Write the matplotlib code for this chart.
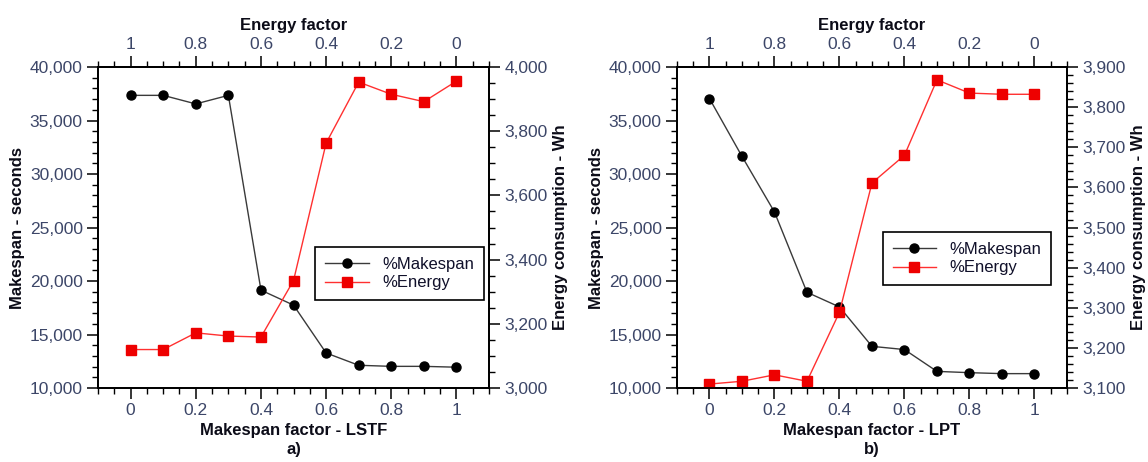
import matplotlib
matplotlib.use("Agg")
import matplotlib.pyplot as plt
from matplotlib.ticker import MultipleLocator, FuncFormatter

plt.rcParams['font.family'] = ['Liberation Sans', 'DejaVu Sans']

factor = [0, 0.1, 0.2, 0.3, 0.4, 0.5, 0.6, 0.7, 0.8, 0.9, 1.0]

# a) LSTF
lstf_makespan = [37350, 37350, 36550, 37350, 19150, 17750, 13280, 12130, 12030, 12030, 11950]
lstf_energy = [3120, 3120, 3172, 3162, 3159, 3335, 3763, 3953, 3915, 3892, 3956]

# b) LPT
lpt_makespan = [37050, 31650, 26450, 18950, 17580, 13900, 13600, 11560, 11440, 11350, 11350]
lpt_energy = [3110, 3117, 3133, 3117, 3289, 3611, 3680, 3868, 3835, 3832, 3832]

panels = [
    ("Makespan factor - LSTF", "a)", lstf_makespan, lstf_energy, (3000, 4000), 200, 50,
     [0.0854, 0.16, 0.3406, 0.695], (0.987, 0.439)),
    ("Makespan factor - LPT", "b)", lpt_makespan, lpt_energy, (3100, 3900), 100, 20,
     [0.5897, 0.16, 0.3397, 0.695], (0.96, 0.486)),
]

tick_col = '#3c4668'
lab_col = '#0c0c18'

fig = plt.figure(figsize=(11.48, 4.62), dpi=100)

for xlabel, tag, mk, en, elim, emaj, emin, rect, legpos in panels:
    ax = fig.add_axes(rect)
    ax2 = ax.twinx()

    l1, = ax.plot(factor, mk, color='#3a3a3a', lw=1.0, marker='o', ms=6.5,
                  mfc='black', mec='black', label='%Makespan')
    l2, = ax2.plot(factor, en, color='#ff3030', lw=1.0, marker='s', ms=6.5,
                   mfc='#ee0000', mec='#ee0000', label='%Energy')

    ax.set_xlim(-0.1, 1.1)
    ax.set_ylim(10000, 40000)
    ax2.set_ylim(*elim)

    ax.xaxis.set_major_locator(MultipleLocator(0.2))
    ax.xaxis.set_minor_locator(MultipleLocator(0.05))
    ax.xaxis.set_major_formatter(FuncFormatter(lambda v, p: '%g' % round(v, 2)))
    ax.yaxis.set_major_locator(MultipleLocator(5000))
    ax.yaxis.set_minor_locator(MultipleLocator(1000))
    ax.yaxis.set_major_formatter(FuncFormatter(lambda v, p: '{:,.0f}'.format(v)))
    ax2.yaxis.set_major_locator(MultipleLocator(emaj))
    ax2.yaxis.set_minor_locator(MultipleLocator(emin))
    ax2.yaxis.set_major_formatter(FuncFormatter(lambda v, p: '{:,.0f}'.format(v)))

    top = ax.secondary_xaxis('top', functions=(lambda x: 1 - x, lambda x: 1 - x))
    top.set_xticks([1, 0.8, 0.6, 0.4, 0.2, 0])
    top.xaxis.set_minor_locator(MultipleLocator(0.05))
    top.xaxis.set_major_formatter(FuncFormatter(lambda v, p: '%g' % round(v, 2)))
    top.set_xlabel("Energy factor", fontsize=12, fontweight='bold', color=lab_col, labelpad=5)

    for a in (ax, ax2, top):
        a.tick_params(which='major', direction='out', length=8, width=1.1,
                      labelsize=12.5, labelcolor=tick_col, pad=3)
        a.tick_params(which='minor', direction='out', length=4, width=1.0)
    for a in (ax, ax2):
        for s in a.spines.values():
            s.set_linewidth(1.3)
    top.spines['top'].set_linewidth(1.3)

    ax.set_xlabel(xlabel + "\n" + tag, fontsize=12, fontweight='bold', color=lab_col,
                  labelpad=3, linespacing=1.35)
    ax.set_ylabel("Makespan - seconds", fontsize=12, fontweight='bold', color=lab_col, labelpad=3)
    ax2.set_ylabel("Energy consumption - Wh", fontsize=12, fontweight='bold', color=lab_col, labelpad=4)

    leg = ax2.legend([l1, l2], ['%Makespan', '%Energy'], loc='upper right',
                     bbox_to_anchor=legpos, borderaxespad=0, fancybox=False,
                     edgecolor='black', fontsize=12, handlelength=2.6, borderpad=0.6,
                     labelspacing=0.2, framealpha=1)
    leg.get_frame().set_linewidth(1.2)
    for t in leg.get_texts():
        t.set_color('#10102a')

fig.savefig('out.png', dpi=100)
